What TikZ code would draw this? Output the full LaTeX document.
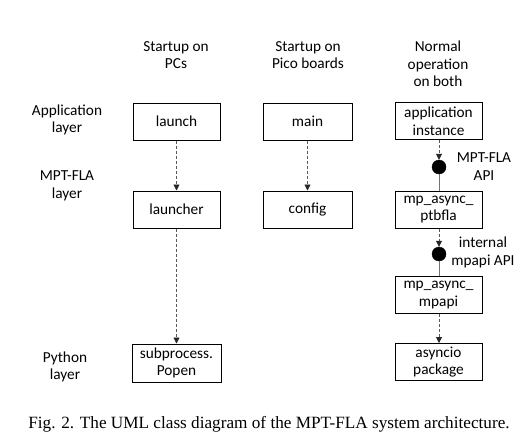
\documentclass[tikz,border=0pt]{standalone}
\usepackage{fontspec}
\setmainfont{Carlito}
\newfontfamily\capfont{Liberation Serif}
\usetikzlibrary{arrows.meta}
\begin{document}
\begin{tikzpicture}[x=1pt,y=-1pt,
  box/.style={draw=black,line width=1pt,minimum width=87pt,minimum height=37pt,inner sep=1pt,align=center,font=\fontsize{15.3}{17.5}\selectfont},
  lbl/.style={align=center,font=\fontsize{15.3}{17.5}\selectfont,inner sep=0pt},
  dep/.style={draw=black!65,line width=0.8pt,dash pattern=on 3pt off 2pt,-{Triangle[length=6pt,width=6pt,fill=black!85,color=black!85]}},
  iface/.style={draw=black!55,line width=1pt},
  ball/.style={circle,fill=black,draw=black,minimum size=14pt,inner sep=0pt}]
\useasboundingbox (0,0) rectangle (530,442);
\fill[white] (0,0) rectangle (530,442);
% column headers
\node[lbl] (h1) at (176,55) {Startup on\\PCs};
\node[lbl] (h2) at (308,55) {Startup on\\Pico boards};
\node[lbl] (h3) at (438,64) {Normal\\operation\\on both};
% row labels
\node[lbl] (r1) at (67,120) {Application\\layer};
\node[lbl] (r2) at (67,186) {MPT-FLA\\layer};
\node[lbl] (r3) at (65,367) {Python\\layer};
% boxes
\node[box] (launch) at (176.5,121.5) {launch};
\node[box] (launcher) at (176.5,209.5) {launcher};
\node[box,minimum width=89pt,minimum height=38pt] (subp) at (176.5,363) {subprocess.\\Popen};
\node[box,minimum width=89pt] (main) at (307.5,121.5) {main};
\node[box,minimum width=89pt] (config) at (307.5,209.5) {config};
\node[box] (app) at (438.5,121) {application\\instance};
\node[box] (ptb) at (438.5,209.5) {mp\_async\_\\ptbfla};
\node[box] (mpapi) at (438.5,295) {mp\_async\_\\mpapi};
\node[box] (asyncio) at (438.5,362) {asyncio\\package};
% interface balls
\node[ball] (b1) at (439,167) {};
\node[ball] (b2) at (439,254) {};
\node[lbl] (l1) at (484,166.5) {MPT-FLA\\API};
\node[lbl] (l2) at (483,252.5) {internal\\mpapi API};
% connectors
\draw[dep] (launch.south) -- (launcher.north);
\draw[dep] (launcher.south) -- (subp.north);
\draw[dep] (main.south) -- (config.north);
\draw[dep] (app.south -| b1) -- (b1.north);
\draw[iface] (b1.south) -- (ptb.north -| b1);
\draw[dep] (ptb.south -| b2) -- (b2.north);
\draw[iface] (b2.south) -- (mpapi.north -| b2);
\draw[dep] (mpapi.south -| b2) -- (asyncio.north -| b2);
% caption
\node[inner sep=0pt,font=\capfont\fontsize{17.2}{20}\selectfont] (cap) at (269,424) {Fig. 2. The UML class diagram of the MPT-FLA system architecture.};
\end{tikzpicture}
\end{document}
